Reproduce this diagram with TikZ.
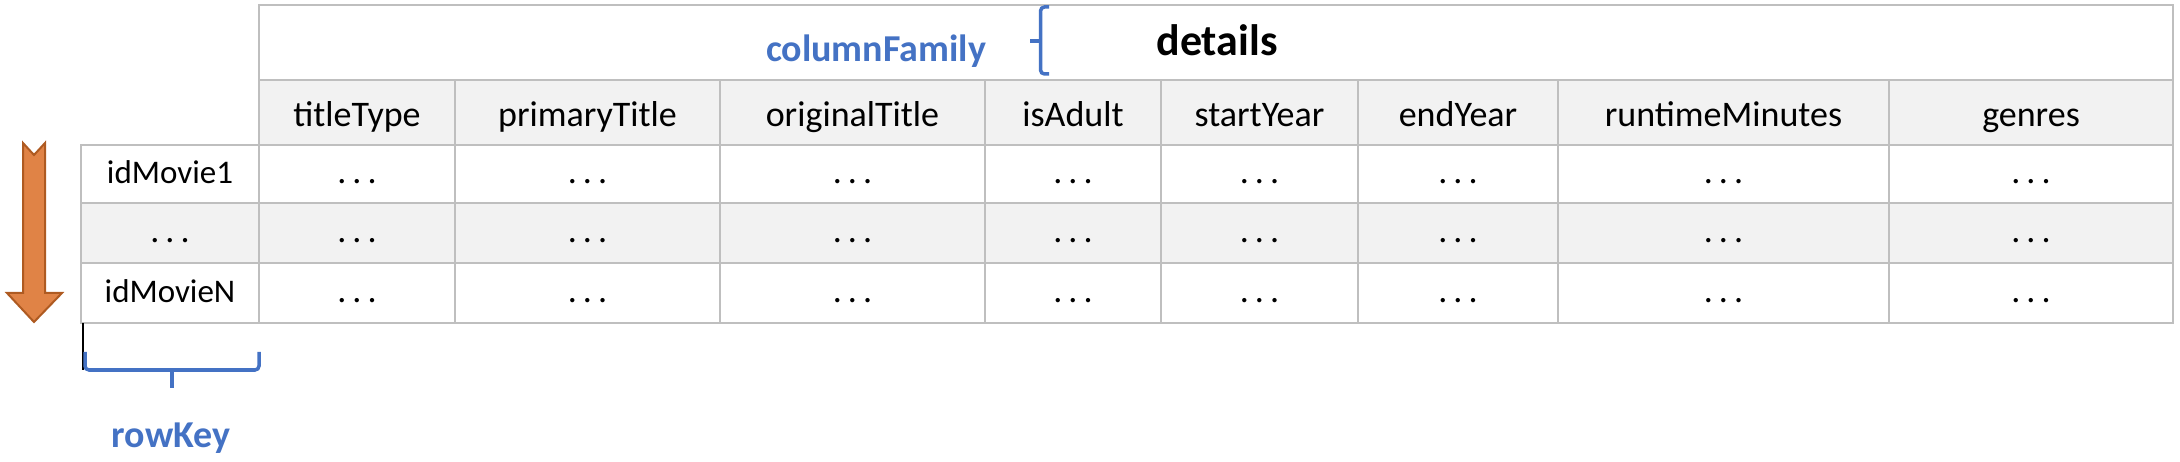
\documentclass[tikz,border=0pt]{standalone}
\usepackage{fontspec}
\setmainfont{Carlito}
\usepackage{tikz}
\definecolor{gridgray}{HTML}{BFBFBF}
\definecolor{lightrow}{HTML}{F2F2F2}
\definecolor{keyblue}{HTML}{4472C4}
\definecolor{arroworange}{HTML}{E08346}
\definecolor{arrowedge}{HTML}{AE5A21}
\newcommand{\cellfont}{\fontsize{36}{40}\selectfont}
\newcommand{\keyfont}{\fontsize{33}{36}\selectfont}
\newcommand{\dotcell}{.\,.\,.}
\tikzstyle{cell}=[draw=gridgray,line width=2pt,fill=white,
                  inner sep=0pt,font=\cellfont]
\tikzstyle{headcell}=[cell,fill=lightrow,minimum height=65pt,
                      text height=30pt,text depth=2pt]
\tikzstyle{whitecell}=[cell,minimum height=58pt,
                       text height=22pt,text depth=3pt]
\tikzstyle{graycell}=[whitecell,fill=lightrow,minimum height=60pt]
\tikzstyle{bluetext}=[text=keyblue,inner sep=0pt,
                      font=\fontsize{38}{42}\selectfont\bfseries]
\tikzstyle{bluebrace}=[draw=keyblue,line width=3.5pt,rounded corners=4pt]

\begin{document}
\begin{tikzpicture}[x=1pt,y=-1pt]
    \useasboundingbox (0,0) rectangle (2180,462);
    % column family row
    \node (fam) at (1216,42.5) [cell,minimum width=1914pt,minimum height=75pt]{};
    \node (cf) at (876,62) [bluetext,anchor=base]{columnFamily};
    \node (det) at (1217,56) [anchor=base,inner sep=0pt,
          font=\fontsize{44}{48}\selectfont\bfseries]{details};
    \draw[bluebrace] (1049,7) -- (1040.5,7) -- (1040.5,74) -- (1049,74);
    \draw[bluebrace,rounded corners=0pt] (1040.5,41) -- (1030,41);
    % header and data cells
    \foreach \cx/\w/\lbl [count=\i] in {357/196/titleType,
        587.5/265/primaryTitle, 852.5/265/originalTitle, 1073/176/isAdult,
        1259.5/197/startYear, 1458/200/endYear, 1723.5/331/runtimeMinutes,
        2031/284/genres}{
      \node (h\i) at (\cx,112.5) [headcell,minimum width=\w pt]{\lbl};
      \node (a\i) at (\cx,174) [whitecell,minimum width=\w pt]{\dotcell};
      \node (b\i) at (\cx,233) [graycell,minimum width=\w pt]{\dotcell};
      \node (c\i) at (\cx,293) [whitecell,minimum width=\w pt,
            minimum height=60pt]{\dotcell};
    }
    % row keys
    \node (k1) at (170,174) [whitecell,minimum width=178pt,font=\keyfont]{idMovie1};
    \node (k2) at (170,233) [graycell,minimum width=178pt]{\dotcell};
    \node (k3) at (170,293) [whitecell,minimum width=178pt,minimum height=60pt,
          font=\keyfont]{idMovieN};
    \draw[line width=1.5pt] (83,323) -- (83,370);
    \draw[bluebrace] (85,352) -- (85,370) -- (259,370) -- (259,352);
    \draw[bluebrace,rounded corners=0pt] (172,370) -- (172,388);
    \node (rk) at (171,447) [bluetext,anchor=base]{rowKey};
    % scan direction
    \draw[fill=arroworange,draw=arrowedge,line width=2pt]
      (23,143) -- (34,155) -- (45,143) -- (45,293) -- (62,293) --
      (34,322) -- (7,293) -- (23,293) -- cycle;
  \end{tikzpicture}
\end{document}
